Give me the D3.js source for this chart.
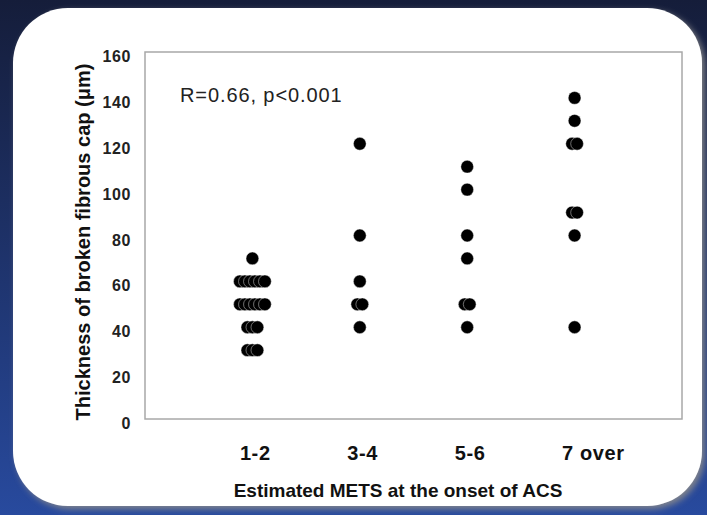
<!DOCTYPE html>
<html><head><meta charset="utf-8">
<script src="https://cdn.jsdelivr.net/npm/d3@7"></script>
<style>html,body{margin:0;padding:0;background:#1b2a55;}svg{display:block;}</style>
</head><body>
<svg id="chart" width="707" height="515"></svg>
<script>
// ---- data ----
const categories = ["1-2", "3-4", "5-6", "7 over"];
const values12 = [70, 60, 60, 60, 60, 60, 60, 50, 50, 50, 50, 50, 50, 40, 40, 40, 30, 30, 30];
const values34 = [120, 80, 60, 50, 50, 40];
const values56 = [110, 100, 80, 70, 50, 50, 40];
const values7over = [140, 130, 120, 120, 90, 90, 80, 40];
const yTicks = [0, 20, 40, 60, 80, 100, 120, 140, 160];
const annotation = "R=0.66, p<0.001";
const xTitle = "Estimated METS at the onset of ACS";
const yTitle = "Thickness of broken fibrous cap (\u03bcm)";

const seriesByCat = [values12, values34, values56, values7over];

const svg = d3.select("#chart");
const W = 707, H = 515;
const defs = svg.append("defs");
const bg = defs.append("linearGradient").attr("id", "bg").attr("x1", 0).attr("y1", 0).attr("x2", 0).attr("y2", 1);
bg.append("stop").attr("offset", "0%").attr("stop-color", "#151d3a");
bg.append("stop").attr("offset", "55%").attr("stop-color", "#1f3570");
bg.append("stop").attr("offset", "100%").attr("stop-color", "#284a9e");
const f = defs.append("filter").attr("id", "sh").attr("x", "-5%").attr("y", "-5%").attr("width", "115%").attr("height", "115%");
f.append("feDropShadow").attr("dx", 3).attr("dy", 3).attr("stdDeviation", 3).attr("flood-color", "#8a8a8a").attr("flood-opacity", 0.9);
const blur = defs.append("filter").attr("id", "soft");
blur.append("feGaussianBlur").attr("stdDeviation", 0.5);

svg.append("rect").attr("width", W).attr("height", H).attr("fill", "url(#bg)");
svg.append("rect").attr("x", 13).attr("y", 8).attr("width", 689).attr("height", 498)
  .attr("rx", 55).attr("ry", 55).attr("fill", "#ffffff").attr("filter", "url(#sh)");

const plot = {left: 145, right: 682, top: 52, bottom: 419};
const x = d3.scalePoint().domain(categories).range([plot.left, plot.right]).padding(1);
const y = d3.scaleLinear().domain([0, 160]).range([plot.bottom, plot.top]);

svg.append("rect").attr("x", plot.left).attr("y", plot.top)
  .attr("width", plot.right - plot.left).attr("height", plot.bottom - plot.top)
  .attr("fill", "none").attr("stroke", "#a8a8a8").attr("stroke-width", 1.5);

// y axis labels
const yAxis = d3.axisLeft(y).tickValues(yTicks).tickSize(0).tickPadding(14).tickFormat(d3.format("d"));
const gy = svg.append("g").attr("transform", `translate(${plot.left},0)`).call(yAxis);
gy.select(".domain").remove();
gy.selectAll("text").attr("font-family", "Liberation Sans, Arial, sans-serif")
  .attr("font-size", 16).attr("font-weight", "bold").attr("fill", "#222").attr("dy", "0.6em")
  .attr("letter-spacing", 0.6);

// x axis labels
const xAxis = d3.axisBottom(x).tickSize(0).tickPadding(0);
const gx = svg.append("g").attr("transform", `translate(0,${plot.bottom})`).call(xAxis);
gx.select(".domain").remove();
gx.selectAll("text").attr("font-family", "Liberation Sans, Arial, sans-serif")
  .attr("font-size", 20).attr("font-weight", "bold").attr("fill", "#111")
  .attr("text-anchor", "start").attr("dx", -13).attr("y", 41).attr("dy", 0)
  .attr("letter-spacing", 0.6);

// points
const pts = [];
seriesByCat.forEach((vals, ci) => {
  const counts = d3.rollup(vals, v => v.length, d => d);
  const seen = new Map();
  vals.forEach(v => {
    const n = counts.get(v);
    const i = seen.get(v) || 0;
    seen.set(v, i + 1);
    pts.push({cat: categories[ci], v, off: (i - (n - 1) / 2) * 5});
  });
});
svg.append("g").attr("filter", "url(#soft)").selectAll("circle").data(pts).join("circle")
  .attr("cx", d => x(d.cat) + d.off).attr("cy", d => y(d.v)).attr("r", 6.4)
  .attr("fill", "#050505").attr("stroke", "#fff").attr("stroke-width", 0.4);

// annotation
svg.append("text").attr("x", 180).attr("y", 102).text(annotation)
  .attr("font-family", "Liberation Sans, Arial, sans-serif").attr("font-size", 20)
  .attr("letter-spacing", 0.9).attr("fill", "#222");

// titles
svg.append("text").attr("x", 398).attr("y", 497).attr("text-anchor", "middle").text(xTitle)
  .attr("font-family", "Liberation Sans, Arial, sans-serif").attr("font-size", 19).attr("font-weight", "bold").attr("fill", "#111");
svg.append("text").attr("transform", "translate(90,242) rotate(-90)").attr("text-anchor", "middle").text(yTitle)
  .attr("font-family", "Liberation Sans, Arial, sans-serif").attr("font-size", 20).attr("font-weight", "bold").attr("fill", "#111");
</script>
</body></html>
